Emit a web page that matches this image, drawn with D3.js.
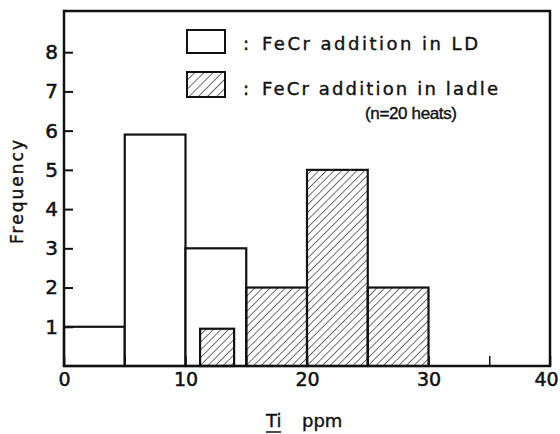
<!DOCTYPE html>
<html lang='en'>
<head>
  <meta charset='UTF-8'>
  <title>Ti ppm histogram</title>
  <style>
    body { margin: 0; background: #fff; }
    text { font-family: 'DejaVu Sans', sans-serif; fill: #111; }
  </style>
</head>
<body>
<div id='chart'></div>
<script src='https://d3js.org/d3.v7.min.js'></script>
<script>
  // data
  var ldFrom = [0, 5, 10]
  var ldTo = [5, 10, 15]
  var ldFreq = [1, 5.9, 3]              // FeCr addition in LD
  var ladleFrom = [11.2, 15, 20, 25]
  var ladleTo = [14, 20, 25, 30]
  var ladleFreq = [0.95, 2, 5, 2]       // FeCr addition in ladle
  var xTickValues = [0, 5, 10, 15, 20, 25, 30, 35, 40]
  var xTickLabels = [0, 10, 20, 30, 40]
  var yTickValues = [1, 2, 3, 4, 5, 6, 7, 8]

  var width = 560, height = 434
  // plot box (window.top is read-only, so no plain "top")
  var box = { left: 64, right: 550, top: 11, bottom: 366 }

  var svg = d3.select('#chart').append('svg')
    .attr('width', width)
    .attr('height', height)

  // hatch patterns
  var defs = svg.append('defs')
  function hatch (id, gap) {
    defs.append('pattern')
      .attr('id', id)
      .attr('patternUnits', 'userSpaceOnUse')
      .attr('width', gap)
      .attr('height', 10)
      .attr('patternTransform', 'rotate(45)')
      .append('line')
      .attr('x1', 0).attr('y1', 0)
      .attr('x2', 0).attr('y2', 10)
      .style('stroke', '#111')
      .style('stroke-width', 1.2)
  }
  hatch('hatch', 5.4)
  hatch('hatchLegend', 6.5)

  var x = d3.scaleLinear().domain([0, 40]).range([box.left, box.right])
  var y = d3.scaleLinear().domain([0, 9.05]).range([box.bottom, box.top])

  // open bars
  svg.append('g').selectAll('rect')
    .data(ldFreq)
    .enter()
    .append('rect')
    .attr('x', function (d, i) { return x(ldFrom[i]) })
    .attr('y', function (d) { return y(d) })
    .attr('width', function (d, i) { return x(ldTo[i]) - x(ldFrom[i]) })
    .attr('height', function (d) { return y(0) - y(d) })
    .style('fill', '#fff')
    .style('stroke', '#111')
    .style('stroke-width', 2.2)

  // hatched bars
  svg.append('g').selectAll('rect')
    .data(ladleFreq)
    .enter()
    .append('rect')
    .attr('x', function (d, i) { return x(ladleFrom[i]) })
    .attr('y', function (d) { return y(d) })
    .attr('width', function (d, i) { return x(ladleTo[i]) - x(ladleFrom[i]) })
    .attr('height', function (d) { return y(0) - y(d) })
    .style('fill', 'url(#hatch)')
    .style('stroke', '#111')
    .style('stroke-width', 2.2)

  // y axis, ticks pointing inward
  var yAxis = svg.append('g')
    .attr('transform', 'translate(' + box.left + ',0)')
    .call(d3.axisLeft(y).tickValues(yTickValues).tickSize(-9).tickPadding(6))
  yAxis.select('.domain').remove()
  yAxis.selectAll('line').style('stroke', '#111').style('stroke-width', 2)
  yAxis.selectAll('text')
    .style('font-size', '20px').style('font-family', 'DejaVu Sans')
    .style('stroke', '#111').style('stroke-width', 0.5)
    .attr('fill', '#111')

  // x axis, ticks pointing inward
  var xAxis = svg.append('g')
    .attr('transform', 'translate(0,' + box.bottom + ')')
    .call(d3.axisBottom(x).tickValues(xTickValues).tickSize(-10).tickPadding(7)
      .tickFormat(function (d) { return xTickLabels.indexOf(d) >= 0 ? d : '' }))
  xAxis.select('.domain').remove()
  xAxis.selectAll('line').style('stroke', '#111').style('stroke-width', 1.5)
  xAxis.selectAll('text')
    .style('font-size', '19px').style('font-family', 'DejaVu Sans')
    .style('stroke', '#111').style('stroke-width', 0.5)
    .attr('fill', '#111')
    .attr('dx', function (d) { return d === 40 ? -4 : 0 })   // keep "40" inside the page

  // frame
  svg.append('rect')
    .attr('x', box.left)
    .attr('y', box.top)
    .attr('width', box.right - box.left)
    .attr('height', box.bottom - box.top)
    .style('fill', 'none')
    .style('stroke', '#111')
    .style('stroke-width', 2.5)

  // legend
  var bold = function (sel) { return sel.style('stroke', '#111').style('stroke-width', 0.4) }
  svg.append('rect')
    .attr('x', 187).attr('y', 30).attr('width', 38).attr('height', 23)
    .style('fill', '#fff').style('stroke', '#111').style('stroke-width', 2)
  svg.append('rect')
    .attr('x', 187).attr('y', 72).attr('width', 38).attr('height', 25)
    .style('fill', 'url(#hatchLegend)').style('stroke', '#111').style('stroke-width', 2)
  svg.append('text').attr('x', 243).attr('y', 50).text(':').style('font-size', '18px').call(bold)
  svg.append('text').attr('x', 243).attr('y', 95).text(':').style('font-size', '18px').call(bold)
  svg.append('text').attr('x', 262).attr('y', 50)
    .attr('textLength', 216).attr('lengthAdjust', 'spacing')
    .text('FeCr addition in LD').style('font-size', '18px').call(bold)
  svg.append('text').attr('x', 262).attr('y', 95)
    .attr('textLength', 236).attr('lengthAdjust', 'spacing')
    .text('FeCr addition in ladle').style('font-size', '18px').call(bold)
  svg.append('text').attr('x', 365).attr('y', 119)
    .attr('textLength', 92).attr('lengthAdjust', 'spacing')
    .text('(n=20 heats)')
    .style('font-family', 'Liberation Sans').style('font-size', '17px').call(bold)

  // axis titles
  svg.append('text')
    .attr('transform', 'translate(23,192) rotate(-90)')
    .attr('text-anchor', 'middle')
    .attr('textLength', 104).attr('lengthAdjust', 'spacing')
    .text('Frequency').style('font-size', '17px').call(bold)
  svg.append('text').attr('x', 266).attr('y', 427).text('Ti').style('font-size', '18px').call(bold)
  svg.append('line')
    .attr('x1', 266).attr('x2', 281).attr('y1', 432).attr('y2', 432)
    .style('stroke', '#111').style('stroke-width', 1.5)
  svg.append('text').attr('x', 302).attr('y', 427).text('ppm').style('font-size', '18px').call(bold)
</script>
</body>
</html>
